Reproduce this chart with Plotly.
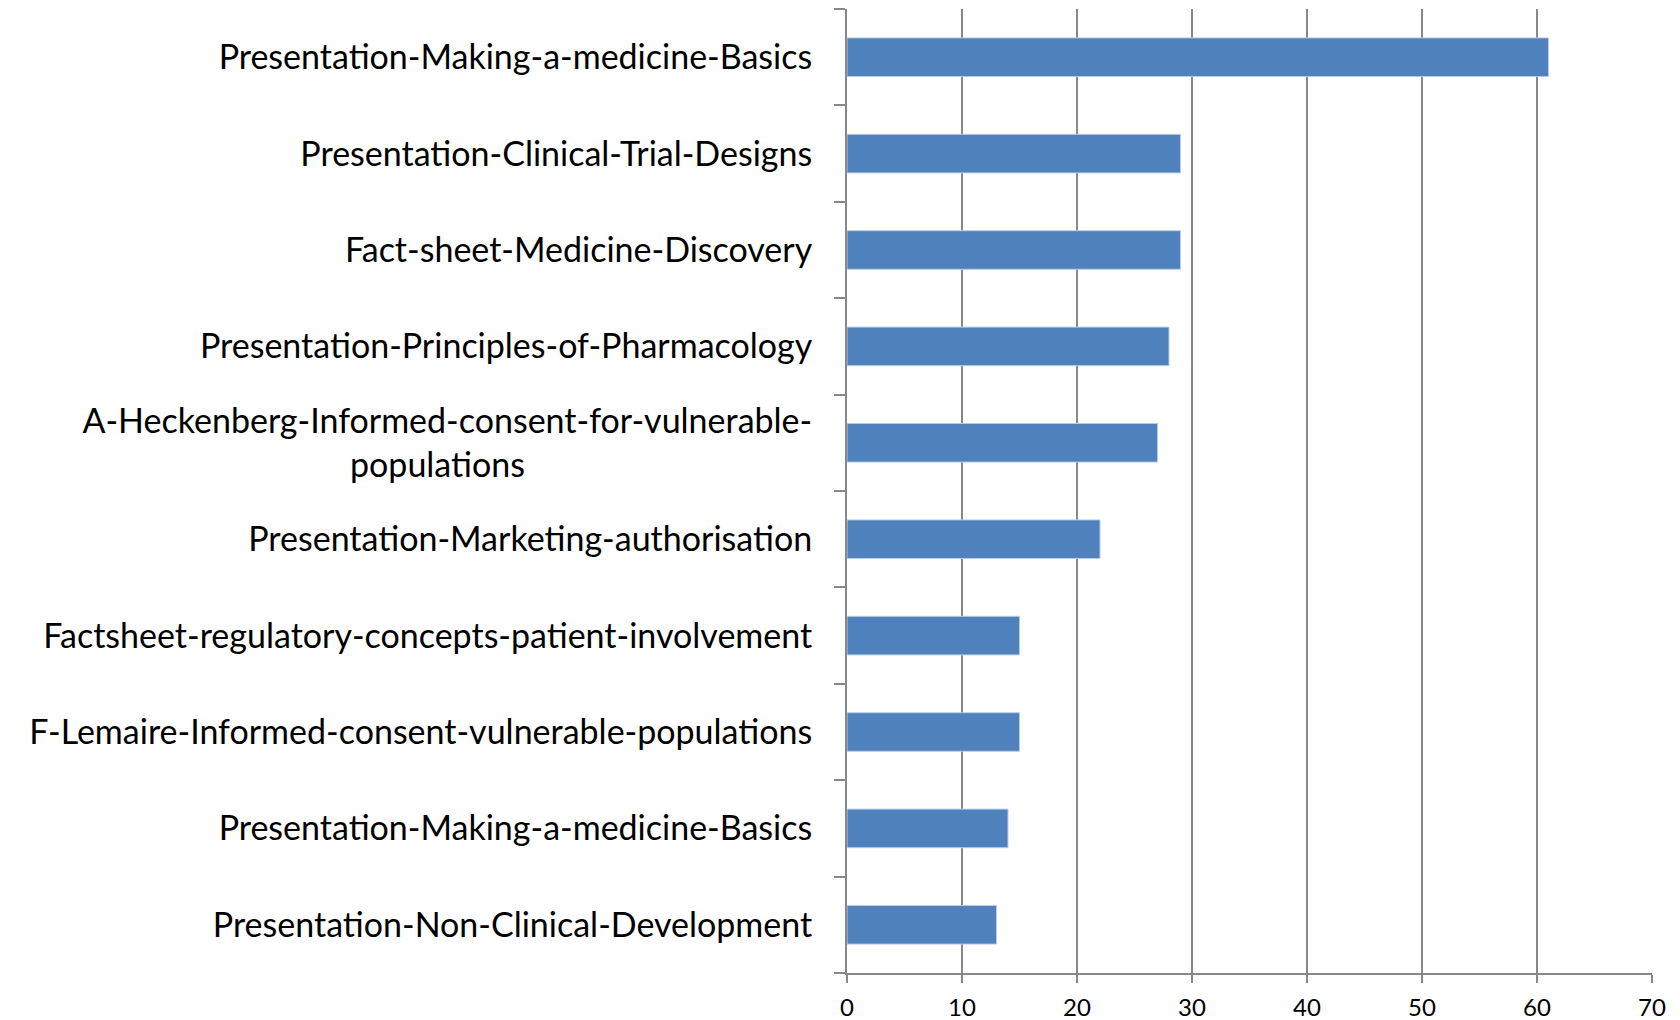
import plotly.graph_objects as go

labels = [
    "Presentation-Making-a-medicine-Basics",
    "Presentation-Clinical-Trial-Designs",
    "Fact-sheet-Medicine-Discovery",
    "Presentation-Principles-of-Pharmacology",
    "A-Heckenberg-Informed-consent-for-vulnerable-populations",
    "Presentation-Marketing-authorisation",
    "Factsheet-regulatory-concepts-patient-involvement",
    "F-Lemaire-Informed-consent-vulnerable-populations",
    "Presentation-Making-a-medicine-Basics",
    "Presentation-Non-Clinical-Development",
]
values = [61, 29, 29, 28, 27, 22, 15, 15, 14, 13]
x_ticks = [0, 10, 20, 30, 40, 50, 60, 70]

ids = [f"c{i}" for i in range(len(labels))]

def fmt(lbl):
    if len(lbl) > 50:
        head, tail = lbl.split("vulnerable-")
        return head + "vulnerable-<br>" + tail + "\u00a0" * 33
    return lbl

ticktext = [fmt(l) for l in labels]

fig = go.Figure(go.Bar(
    x=values, y=ids, orientation="h",
    marker=dict(color="#4F81BD", line=dict(color="#B9CDE5", width=1)),
))

fig.update_layout(
    width=1680, height=1020,
    margin=dict(l=839, r=36, t=1, b=55),
    paper_bgcolor="white", plot_bgcolor="white",
    bargap=0.6, showlegend=False,
    font=dict(family="Lato, 'Open Sans', sans-serif", color="black"),
)
fig.update_xaxes(
    range=[0, 70], tickvals=x_ticks, showgrid=True, gridcolor="#888888", gridwidth=1.5,
    showline=True, linecolor="#888888", linewidth=2, ticks="outside", ticklen=8,
    tickcolor="#888888", tickwidth=1.5, tickfont=dict(size=24), zeroline=False,
    automargin=False, ticklabelstandoff=4,
)
fig.update_yaxes(
    type="category", categoryorder="array", categoryarray=ids, autorange="reversed",
    tickvals=ids, ticktext=ticktext, tickson="boundaries", ticks="outside", ticklen=11,
    tickcolor="#888888", tickwidth=1.5, showline=True, linecolor="#888888", linewidth=2,
    showgrid=False, tickfont=dict(size=34), ticklabelstandoff=26, automargin=False,
)

fig.write_html("out.html")
